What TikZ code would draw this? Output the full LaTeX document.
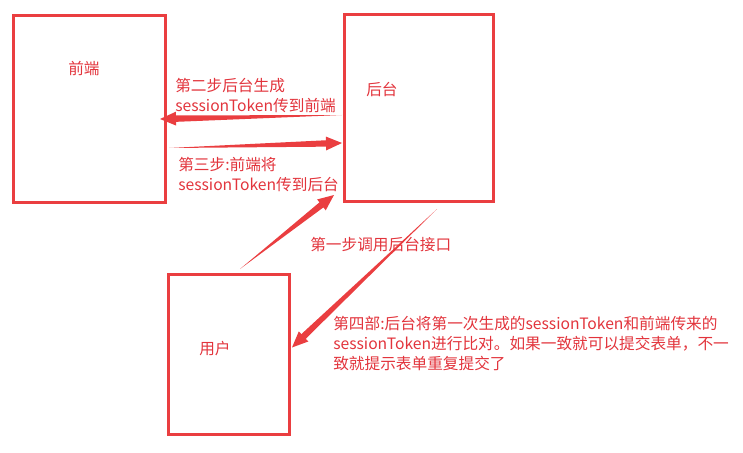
\documentclass[tikz,border=0pt]{standalone}
\usepackage{fontspec}
\setmainfont{Noto Sans CJK SC}
\usepackage{tikz}
\usetikzlibrary{calc,positioning}
\definecolor{LineRed}{RGB}{234,62,64}
\definecolor{TextRed}{RGB}{226,52,60}
\newcommand{\taper}[3][LineRed]{%
  \path (#2) coordinate (tA) (#3) coordinate (tB) ($(tB)!12pt!(tA)$) coordinate (tH);
  \fill[#1] (tA) -- ($(tH)!2.4pt!90:(tB)$) -- ($(tH)!5.2pt!90:(tB)$) -- (tB)
    -- ($(tH)!5.2pt!-90:(tB)$) -- ($(tH)!2.4pt!-90:(tB)$) -- cycle;}
\tikzset{
  box/.style={draw=LineRed,line width=2.25pt,inner sep=0pt},
  txt/.style={TextRed,inner sep=0pt,anchor=north west,align=left,
    font=\fontsize{11.75}{15}\selectfont}
}

\begin{document}
\begin{tikzpicture}[x=0.75pt,y=-0.75pt]
  \useasboundingbox (0,0) rectangle (743,453);
  % three boxes
  \node[box,minimum width=152*0.75pt,minimum height=187*0.75pt] (fe) at (89.5,109) {};
  \node[box,minimum width=149*0.75pt,minimum height=187*0.75pt] (be) at (419,108) {};
  \node[box,minimum width=121*0.75pt,minimum height=160*0.75pt] (us) at (229,354.5) {};
  \node[txt] (fename) at (68,61) {前端};
  \node[txt] (bename) at (366,82) {后台};
  \node[txt] (usname) at (199,341) {用户};
  % steps
  \taper{$(us.north)+(11,-4)$}{$(be.south west)+(-9,-8)$}
  \taper{$(be.west)+(-1,7)$}{$(fe.east)+(-7,10)$}
  \taper{$(fe.east)+(2,39)$}{$(be.west)+(-1,35)$}
  \taper{$(be.south)+(18,6)$}{$(us.east)+(1,-7)$}
  \node[txt] (step2) at (175,78) {第二步后台生成\\sessionToken传到前端};
  \node[txt] (step3) at (178,157) {第三步:前端将\\sessionToken传到后台};
  \node[txt] (step1) at (310,237) {第一步调用后台接口};
  \node[txt] (step4) at (333,316) {第四部:后台将第一次生成的sessionToken和前端传来的\\sessionToken进行比对。如果一致就可以提交表单，不一\\致就提示表单重复提交了};
\end{tikzpicture}
\end{document}
